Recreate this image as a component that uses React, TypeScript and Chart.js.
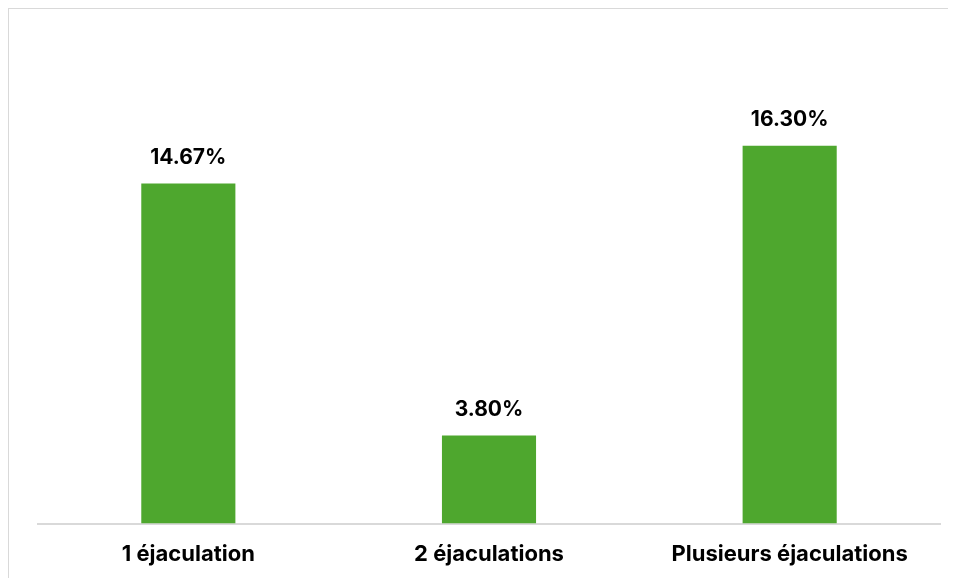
import React, { useEffect, useRef } from "react";
import { Chart, registerables } from "chart.js";

Chart.register(...registerables);

const categories = ["1 éjaculation", "2 éjaculations", "Plusieurs éjaculations"];
const values = [14.67, 3.8, 16.3];
const valueLabels = ["14.67%", "3.80%", "16.30%"];

const FONT = "Inter, Roboto, sans-serif";

const barLabelPlugin = {
  id: "barLabels",
  afterDatasetsDraw(chart: any) {
    const ctx = chart.ctx;
    const meta = chart.getDatasetMeta(0);
    ctx.save();
    ctx.font = `bold 21px ${FONT}`;
    ctx.fillStyle = "#000000";
    ctx.textAlign = "center";
    ctx.textBaseline = "middle";
    meta.data.forEach((bar: any, i: number) => {
      ctx.fillText(valueLabels[i], bar.x, bar.y - 26);
    });
    ctx.restore();
  },
};

export default function App() {
  const ref = useRef<HTMLCanvasElement>(null);
  useEffect(() => {
    if (!ref.current) return;
    const chart = new Chart(ref.current, {
      type: "bar",
      data: {
        labels: categories,
        datasets: [
          {
            data: values,
            backgroundColor: "#4EA72E",
            borderWidth: 0,
            barPercentage: 0.313,
            categoryPercentage: 1,
          },
        ],
      },
      options: {
        responsive: false,
        animation: false,
        layout: { padding: { top: 51, left: 29, right: 27, bottom: 1 } },
        plugins: { legend: { display: false }, tooltip: { enabled: false } },
        scales: {
          x: {
            grid: { display: false, drawTicks: false },
            border: { display: true, color: "#d9d9d9", width: 2 },
            ticks: {
              padding: 18,
              color: "#000000",
              font: { family: FONT, size: 22, weight: "bold" },
            },
          },
          y: { display: false, min: 0, max: 20 },
        },
      },
      plugins: [barLabelPlugin],
    });
    return () => chart.destroy();
  }, []);
  return (
    <div
      style={{
        width: 960,
        height: 580,
        border: "1px solid #d9d9d9",
        boxSizing: "border-box",
        background: "#ffffff",
      }}
    >
      <canvas ref={ref} width={958} height={578} style={{ display: "block" }} />
    </div>
  );
}
